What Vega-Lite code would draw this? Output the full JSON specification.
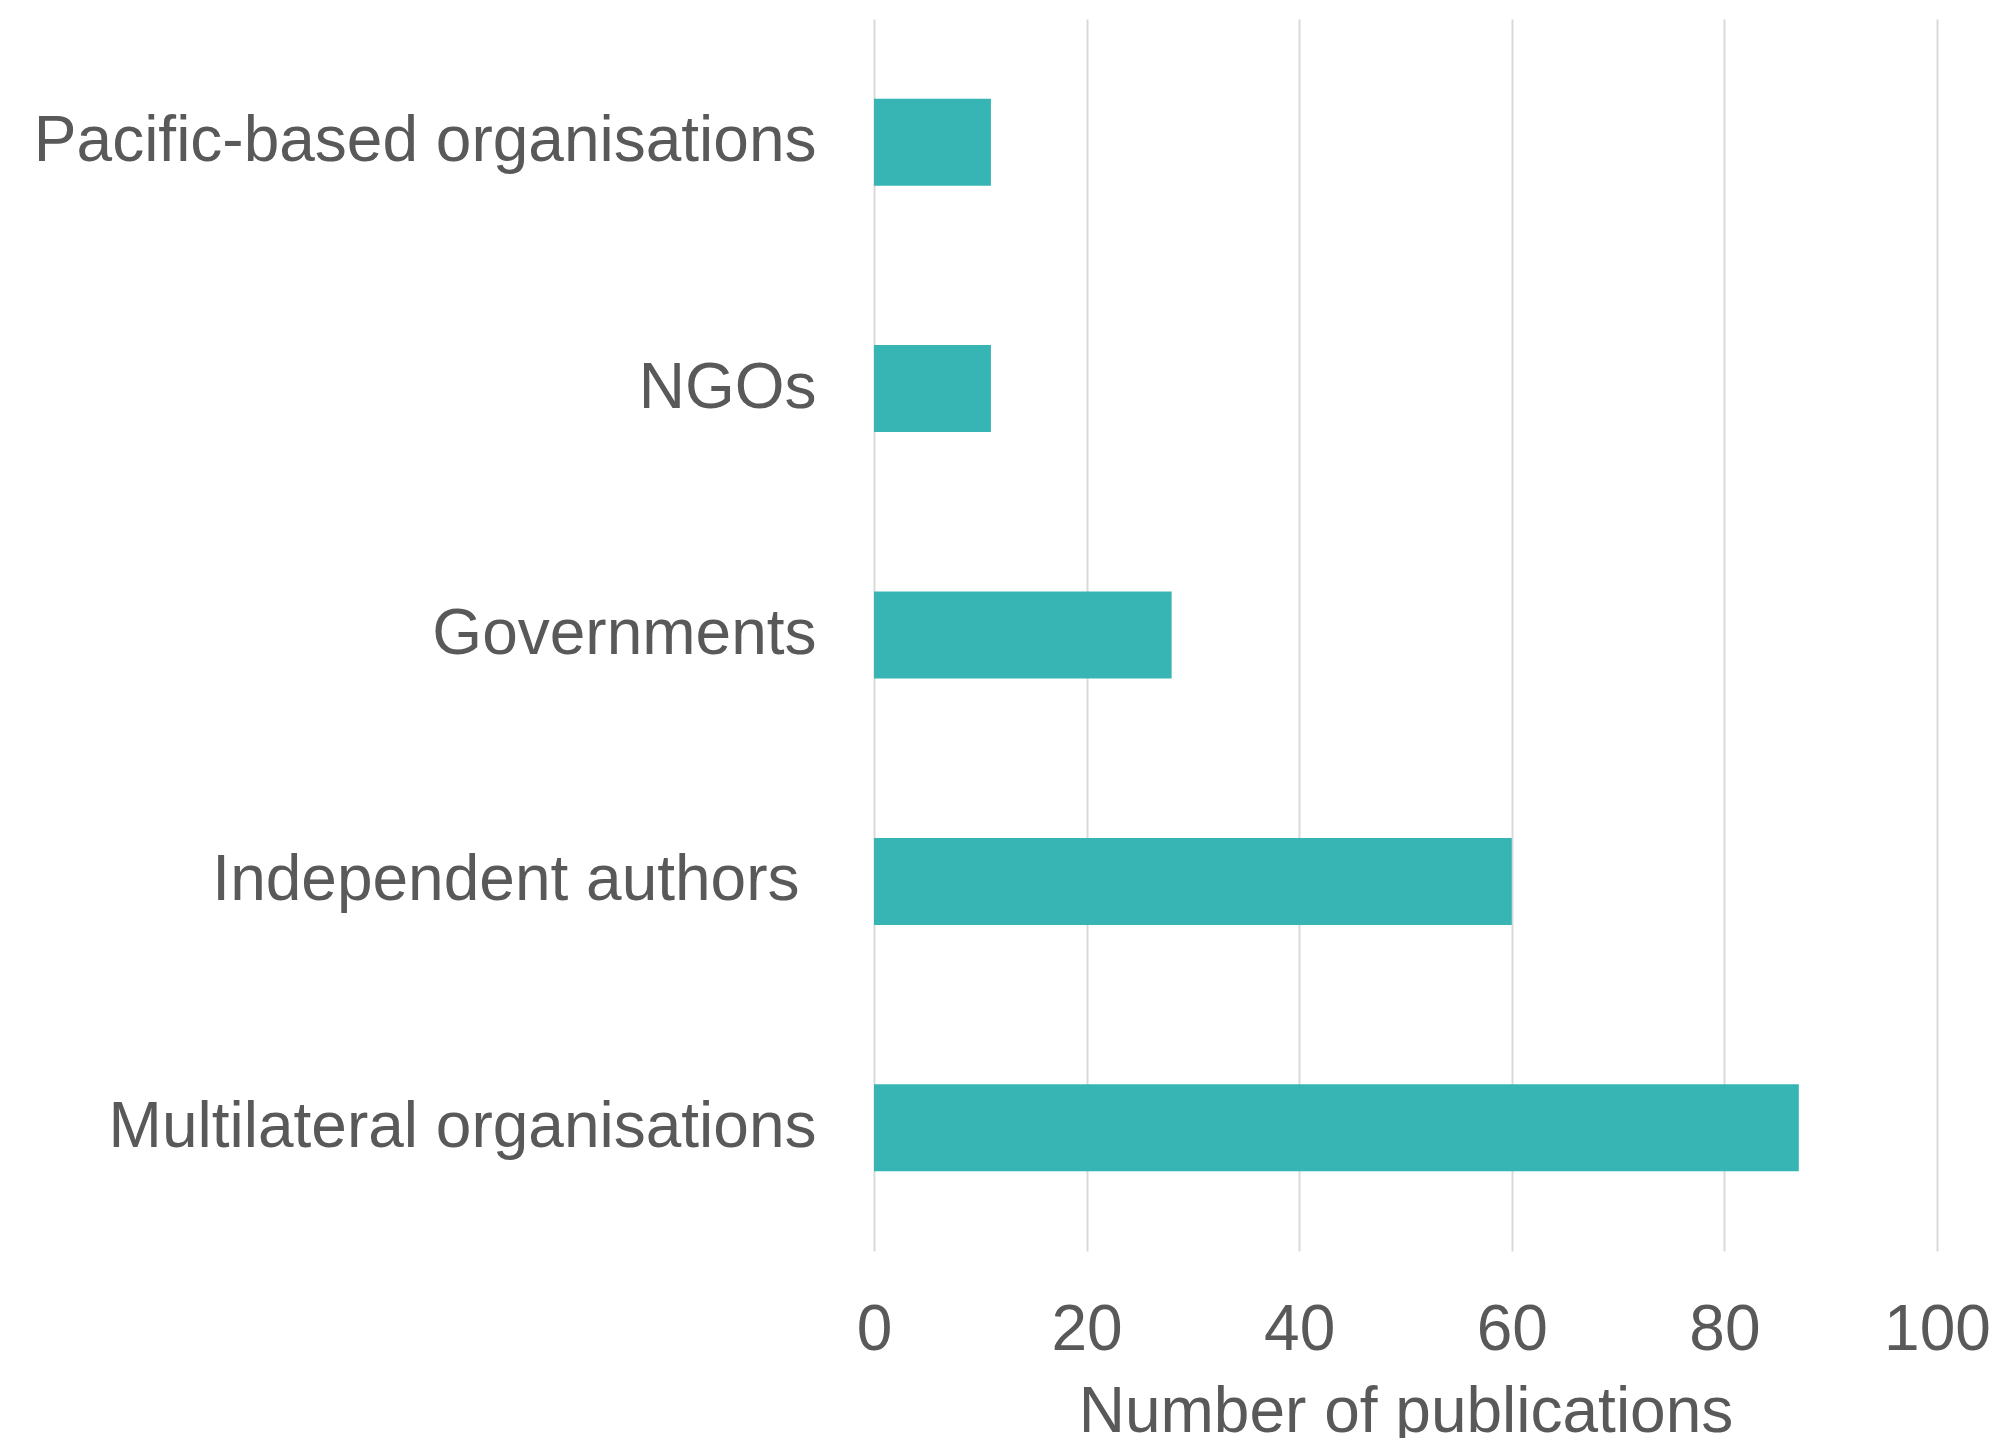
{
  "$schema": "https://vega.github.io/schema/vega-lite/v6.json",
  "autosize": {"type": "none"},
  "padding": {"left": 874, "top": 19, "right": 62, "bottom": 187},
  "width": 1063,
  "height": 1232,
  "background": "white",
  "config": {
    "view": {"stroke": null},
    "font": "Liberation Sans",
    "axis": {"labelFont": "Liberation Sans", "titleFont": "Liberation Sans"}
  },
  "data": {
    "values": [
      {"category": "Pacific-based organisations", "publications": 11},
      {"category": "NGOs", "publications": 11},
      {"category": "Governments", "publications": 28},
      {"category": "Independent authors", "publications": 60},
      {"category": "Multilateral organisations", "publications": 87}
    ]
  },
  "mark": {"type": "bar", "color": "#37B5B4"},
  "encoding": {
    "y": {
      "field": "category",
      "type": "nominal",
      "sort": null,
      "scale": {"paddingInner": 0.647, "paddingOuter": 0.3235},
      "axis": {
        "title": null,
        "ticks": false,
        "domain": false,
        "labelFontSize": 64,
        "labelColor": "#595959",
        "labelPadding": {"condition": {"test": "datum.value === 'Independent authors'", "value": 75}, "value": 58},
        "labelLimit": 0
      }
    },
    "x": {
      "field": "publications",
      "type": "quantitative",
      "scale": {"domain": [0, 100], "nice": false},
      "axis": {
        "title": "Number of publications",
        "values": [0, 20, 40, 60, 80, 100],
        "grid": true,
        "gridColor": "#d9d9d9",
        "gridWidth": 2,
        "domain": false,
        "ticks": false,
        "labelFontSize": 64,
        "labelColor": "#595959",
        "labelPadding": 47,
        "labelFlush": false,
        "titleFontSize": 64,
        "titleFontWeight": "normal",
        "titleColor": "#595959",
        "titlePadding": 18
      }
    }
  }
}
